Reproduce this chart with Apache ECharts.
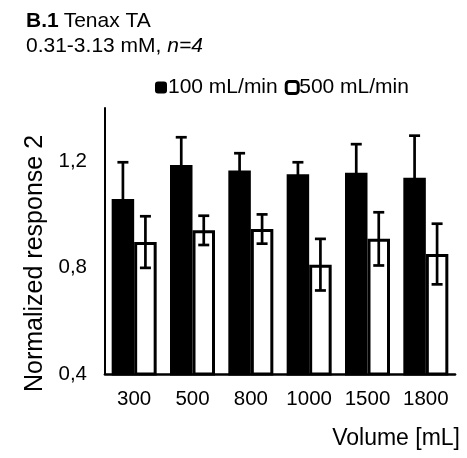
<!DOCTYPE html>
<html>
<head>
<meta charset="utf-8">
<script src="https://cdn.jsdelivr.net/npm/echarts@6/dist/echarts.min.js"></script>
<style>
html,body{margin:0;padding:0;background:#fff;}
#chart{width:467px;height:458px;}
</style>
</head>
<body>
<div id="chart"></div>
<script>
// ---- data ----
const categories = ['300', '500', '800', '1000', '1500', '1800'];
const seriesNames = ['100 mL/min', '500 mL/min'];
const flow100 = [1.058, 1.186, 1.165, 1.151, 1.157, 1.138];
const flow100Err = [0.138, 0.104, 0.065, 0.045, 0.107, 0.158];
const flow500 = [0.896, 0.940, 0.945, 0.811, 0.908, 0.851];
const flow500Err = [0.097, 0.055, 0.055, 0.097, 0.100, 0.114];
const yMin = 0.4, yMax = 1.4, yInterval = 0.4;

// ---- style ----
const FONT = "'Liberation Sans', Arial, sans-serif";
const FS = 20.5;
const BAR_W = 22.5;
const BORDER = 3;

const chart = echarts.init(document.getElementById('chart'), null, {renderer: 'canvas'});

function errData(vals, errs) {
  return vals.map((v, i) => [i, v, errs[i]]);
}

function makeErrRender(offsetSign) {
  return function (params, api) {
    const idx = api.value(0);
    const v = api.value(1);
    const e = api.value(2);
    const hi = api.coord([idx, v + e]);
    const lo = api.coord([idx, v - e]);
    const x = hi[0] + offsetSign * BAR_W / 2;
    const cap = 5.5;
    const st = {stroke: '#000', lineWidth: 2.7};
    return {
      type: 'group',
      children: [
        {type: 'line', shape: {x1: x, y1: hi[1], x2: x, y2: lo[1]}, style: st},
        {type: 'line', shape: {x1: x - cap, y1: hi[1], x2: x + cap, y2: hi[1]}, style: st},
        {type: 'line', shape: {x1: x - cap, y1: lo[1], x2: x + cap, y2: lo[1]}, style: st}
      ]
    };
  };
}

const option = {
  backgroundColor: '#fff',
  animation: false,
  textStyle: {fontFamily: FONT, color: '#000'},
  title: {
    left: 26,
    top: 9,
    padding: 0,
    text: '{b|B.1} {n|Tenax TA}\n{n|0.31-3.13 mM, }{i|n=4}',
    textStyle: {
      fontFamily: FONT,
      fontWeight: 'normal',
      rich: {
        b: {fontWeight: 'bold', fontSize: 21, fontFamily: FONT, color: '#000', lineHeight: 25},
        n: {fontWeight: 'normal', fontSize: 21, fontFamily: FONT, color: '#000', lineHeight: 25},
        i: {fontWeight: 'normal', fontStyle: 'italic', fontSize: 21, fontFamily: FONT, color: '#000', lineHeight: 25}
      }
    }
  },
  legend: {
    left: 155,
    top: 77,
    padding: 0,
    itemWidth: 12,
    itemHeight: 12,
    itemGap: 7,
    textStyle: {fontFamily: FONT, fontSize: 21, color: '#000', padding: [0, 0, 0, -4]},
    data: [
      {name: seriesNames[0], icon: 'roundRect', itemStyle: {color: '#000', borderColor: '#000', borderWidth: 0}},
      {name: seriesNames[1], icon: 'roundRect', itemStyle: {color: '#fff', borderColor: '#000', borderWidth: 3}}
    ]
  },
  grid: {left: 105, right: 12, top: 108, bottom: 84, containLabel: false},
  xAxis: {
    type: 'category',
    data: categories,
    name: 'Volume [mL]',
    nameLocation: 'end',
    nameGap: 5,
    nameTextStyle: {fontFamily: FONT, fontSize: 23, color: '#000', align: 'right', verticalAlign: 'top', padding: [53, 0, 0, 0]},
    axisLine: {lineStyle: {color: '#000', width: 2.7}},
    axisTick: {show: false},
    axisLabel: {fontFamily: FONT, fontSize: FS, color: '#000', margin: 15, interval: 0, hideOverlap: false}
  },
  yAxis: {
    type: 'value',
    min: yMin,
    max: yMax,
    interval: yInterval,
    name: 'Normalized response 2',
    nameLocation: 'middle',
    nameGap: 50,
    nameTextStyle: {fontFamily: FONT, fontSize: 25, color: '#000', padding: [0, 45, 0, 0]},
    axisLine: {show: true, lineStyle: {color: '#000', width: 2}},
    axisTick: {show: false},
    splitLine: {show: false},
    axisLabel: {
      fontFamily: FONT, fontSize: FS, color: '#000', margin: 18,
      showMaxLabel: false,
      formatter: v => v.toFixed(1).replace('.', ',')
    }
  },
  series: [
    {
      name: seriesNames[0], type: 'bar', data: flow100, barWidth: BAR_W, barGap: '0%',
      itemStyle: {color: '#000', borderColor: '#000', borderWidth: BORDER}
    },
    {
      name: seriesNames[1], type: 'bar', data: flow500, barWidth: BAR_W,
      itemStyle: {color: '#fff', borderColor: '#000', borderWidth: BORDER}
    },
    {
      type: 'custom', name: 'err100', z: 5, silent: true,
      renderItem: makeErrRender(-1), data: errData(flow100, flow100Err)
    },
    {
      type: 'custom', name: 'err500', z: 5, silent: true,
      renderItem: makeErrRender(1), data: errData(flow500, flow500Err)
    }
  ]
};
chart.setOption(option);
</script>
</body>
</html>
